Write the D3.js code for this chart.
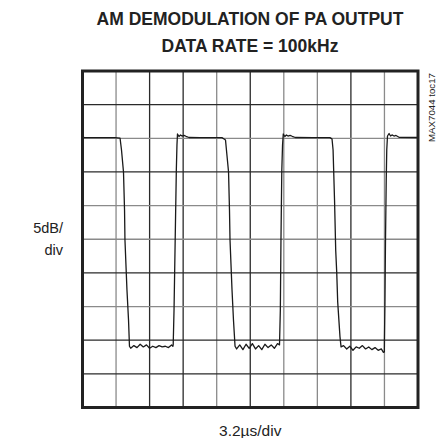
<!DOCTYPE html>
<html>
<head>
<meta charset="utf-8">
<script src="https://cdn.jsdelivr.net/npm/d3@7"></script>
<style>
  body { margin: 0; background: #fff; }
  text { font-family: "Liberation Sans", Arial, sans-serif; fill: #222; }
</style>
</head>
<body>
<script>
// scope screen: 10 divisions each way
var timePerDiv = 3.2;   // us/div
var dbPerDiv = 5;       // dB/div
var divisions = 10;

// trace: time in us, level in dB (top of screen = 0 dB)
var traceTime = [
    0.01, 0.1, 1.67, 3.1, 3.58,
    3.72, 3.91, 4.01, 4.05, 4.24, 4.39, 4.48,
    4.6, 4.9, 5.2, 5.5, 5.8, 6.1, 6.4, 6.7, 7.0, 7.3, 7.6, 7.9, 8.2, 8.5, 8.62,
    8.65, 8.73, 8.84, 8.95, 9.01, 9.06,
    9.2, 9.35, 9.49, 9.68, 9.87, 10.16, 11.2, 13.3, 13.5, 13.64,
    13.73, 13.93, 14.02, 14.07, 14.26, 14.4, 14.55,
    14.7, 15.0, 15.3, 15.6, 15.9, 16.2, 16.5, 16.8, 17.1, 17.4, 17.7, 18.0, 18.3, 18.6,
    18.79, 18.87, 18.93, 19.01, 19.08, 19.15,
    19.3, 19.45, 19.6, 19.8, 20.0, 20.3, 22.0, 23.6, 23.75,
    23.8, 23.9, 24.04, 24.15, 24.25, 24.34, 24.56, 24.66,
    24.9, 25.2, 25.5, 25.8, 26.1, 26.4, 26.7, 27.0, 27.3, 27.6, 27.9, 28.2, 28.5, 28.7,
    28.79, 28.8, 28.85, 28.9, 28.97, 29.02, 29.09,
    29.24, 29.38, 29.52, 29.71, 29.9, 30.19, 32
];
var traceLevel = [
    -8.47, -9.88, -9.9, -9.9, -9.96,
    -11.74, -15.0, -20.7, -25.1, -32.5, -37.0, -40.9,
    -41.2, -40.8, -41.1, -40.6, -41.0, -40.7, -41.2, -40.9, -41.1, -40.8, -41.0, -40.9, -41.1, -40.7, -40.9,
    -40.7, -35.5, -25.1, -14.7, -11.0, -9.36,
    -9.73, -9.5, -9.66, -9.56, -9.7, -9.88, -9.9, -9.9, -10.1, -10.25,
    -11.74, -15.0, -20.7, -25.1, -32.5, -37.0, -40.9,
    -41.3, -40.7, -41.4, -40.6, -41.2, -40.5, -41.3, -40.8, -41.4, -40.6, -41.1, -40.7, -41.2, -40.5,
    -40.7, -35.5, -25.1, -14.7, -11.0, -9.36,
    -9.73, -9.5, -9.66, -9.56, -9.7, -9.88, -9.9, -9.9, -10.05,
    -10.1, -11.74, -19.2, -26.6, -30.0, -34.3, -39.5, -41.0,
    -40.8, -41.3, -40.9, -41.5, -41.0, -41.2, -40.8, -41.3, -41.0, -41.4, -41.1, -41.5, -41.3, -41.8,
    -41.75, -40.0, -34.0, -25.1, -16.2, -11.7, -9.66,
    -9.29, -9.66, -9.5, -9.66, -9.58, -9.85, -9.88
];

// graticule shading as scanned (true = dark line)
var vLineDark = [false, true, true, false, true, false, false, true, false];
var hLineDark = [true, false, true, false, false, true, false, true, true];

var titleLines = ["AM DEMODULATION OF PA OUTPUT", "DATA RATE = 100kHz"];
var yLabel = ["5dB/", "div"];
var xLabel = "3.2\u00b5s/div";
var tocLabel = "MAX7044 toc17";

var W = 448, H = 438;
var m = { left: 82.5, right: 418, top: 71, bottom: 407.5 };

var svg = d3.select("body").append("svg")
    .attr("width", W)
    .attr("height", H);

svg.append("rect").attr("width", W).attr("height", H).attr("fill", "#fff");

var x = d3.scaleLinear().domain([0, timePerDiv * divisions]).range([m.left, m.right]);
var y = d3.scaleLinear().domain([-dbPerDiv * divisions, 0]).range([m.bottom, m.top]);

// grid
var vTicks = d3.range(1, divisions).map(i => i * timePerDiv);
var hTicks = d3.range(1, divisions).map(i => -i * dbPerDiv);

svg.append("g")
    .selectAll("line")
    .data(vTicks)
    .join("line")
    .attr("x1", d => x(d)).attr("x2", d => x(d))
    .attr("y1", m.top).attr("y2", m.bottom)
    .attr("stroke", (d, i) => vLineDark[i] ? "#2a2a2a" : "#8a8a8a")
    .attr("stroke-width", 1.3);

svg.append("g")
    .selectAll("line")
    .data(hTicks)
    .join("line")
    .attr("y1", d => y(d)).attr("y2", d => y(d))
    .attr("x1", m.left).attr("x2", m.right)
    .attr("stroke", (d, i) => hLineDark[i] ? "#2a2a2a" : "#8a8a8a")
    .attr("stroke-width", 1.3);

// trace
var pts = traceTime.map((t, i) => [t, traceLevel[i]]);
var line = d3.line().x(d => x(d[0])).y(d => y(d[1]));

svg.append("path")
    .datum(pts)
    .attr("d", line)
    .attr("fill", "none")
    .attr("stroke", "#1a1a1a")
    .attr("stroke-width", 1.3)
    .attr("stroke-linejoin", "round");

// frame
svg.append("rect")
    .attr("x", m.left).attr("y", m.top)
    .attr("width", m.right - m.left).attr("height", m.bottom - m.top)
    .attr("fill", "none")
    .attr("stroke", "#222")
    .attr("stroke-width", 3);

// texts
svg.append("g")
    .selectAll("text")
    .data(titleLines)
    .join("text")
    .attr("x", 250)
    .attr("y", (d, i) => 25 + i * 26.5)
    .attr("text-anchor", "middle")
    .style("font-size", "17.5px")
    .style("font-weight", "bold")
    .text(d => d);

svg.append("g")
    .selectAll("text")
    .data(yLabel)
    .join("text")
    .attr("x", 63)
    .attr("y", (d, i) => 233 + i * 22)
    .attr("text-anchor", "end")
    .style("font-size", "14.5px")
    .text(d => d);

svg.append("text")
    .attr("x", (m.left + m.right) / 2)
    .attr("y", 436)
    .attr("text-anchor", "middle")
    .style("font-size", "15.5px")
    .text(xLabel);

svg.append("text")
    .attr("transform", "translate(435,142) rotate(-90)")
    .style("font-size", "9.7px")
    .text(tocLabel);
</script>
</body>
</html>
